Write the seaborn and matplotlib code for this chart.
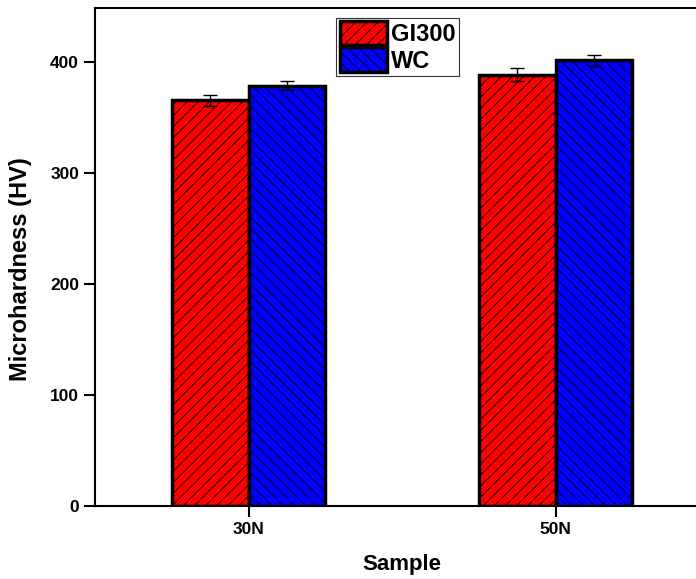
import matplotlib
matplotlib.use("Agg")
import matplotlib.pyplot as plt
from matplotlib.patches import Patch
import seaborn as sns
import pandas as pd

samples = ["30N", "50N"]
series = ["GI300", "WC"]
gi300_values = [366, 389]
wc_values = [379, 402]
gi300_err = [5, 6]
wc_err = [4, 5]
colors = ["#ff0000", "#0000ff"]
hatches = ["///", "\\\\\\"]

df = pd.DataFrame({
    "Sample": samples * 2,
    "Series": [series[0]] * 2 + [series[1]] * 2,
    "Value": gi300_values + wc_values,
})
errs = gi300_err + wc_err

sns.set_style("ticks")
plt.rcParams["font.family"] = ["Liberation Sans", "DejaVu Sans"]
plt.rcParams["font.weight"] = "bold"
plt.rcParams["hatch.linewidth"] = 0.6
plt.rcParams["text.color"] = "black"
plt.rcParams["axes.labelcolor"] = "black"
plt.rcParams["xtick.color"] = "black"
plt.rcParams["ytick.color"] = "black"
plt.rcParams["axes.edgecolor"] = "black"

fig = plt.figure(figsize=(6.96, 5.79), dpi=100)
ax = fig.add_axes([95 / 696, 1 - 506 / 579, (709 - 95) / 696, (506 - 8) / 579])

sns.barplot(data=df, x="Sample", y="Value", hue="Series", order=samples,
            hue_order=series, palette=colors, width=0.5, saturation=1,
            errorbar=None, legend=False, ax=ax,
            edgecolor="black", linewidth=2.5)

for i, p in enumerate(ax.patches[:4]):
    p.set_hatch(hatches[i // 2])
    cx = p.get_x() + p.get_width() / 2
    ax.errorbar(cx, p.get_height(), yerr=errs[i], color="black", capsize=5,
                elinewidth=1, capthick=1)

ax.set_ylim(0, 449)
ax.set_xlim(-0.5, 1.5)
ax.set_yticks([0, 100, 200, 300, 400])
ax.tick_params(axis="both", direction="out", length=8, width=1.5, labelsize=12.5,
               colors="black")
for lab in ax.get_xticklabels() + ax.get_yticklabels():
    lab.set_fontweight("bold")
for s in ax.spines.values():
    s.set_visible(True)
    s.set_linewidth(1.5)
ax.set_xlabel("Sample", fontsize=16, fontweight="bold", labelpad=12)
ax.set_ylabel("Microhardness (HV)", fontsize=17, fontweight="bold")
ax.yaxis.set_label_coords(-0.102, 0.476)

handles = [Patch(facecolor=colors[i], edgecolor="black", hatch=hatches[i],
                 linewidth=2.5, label=series[i]) for i in range(2)]
leg = ax.legend(handles=handles, loc="upper center", bbox_to_anchor=(0.493, 0.99),
                prop={"weight": "bold", "size": 17}, frameon=True, fancybox=False,
                edgecolor="black", handlelength=2.0, handleheight=1.2,
                labelspacing=0.05, borderpad=0.15, handletextpad=0.15,
                borderaxespad=0.2)
leg.get_frame().set_linewidth(0.8)

fig.savefig("out.png", dpi=100)
